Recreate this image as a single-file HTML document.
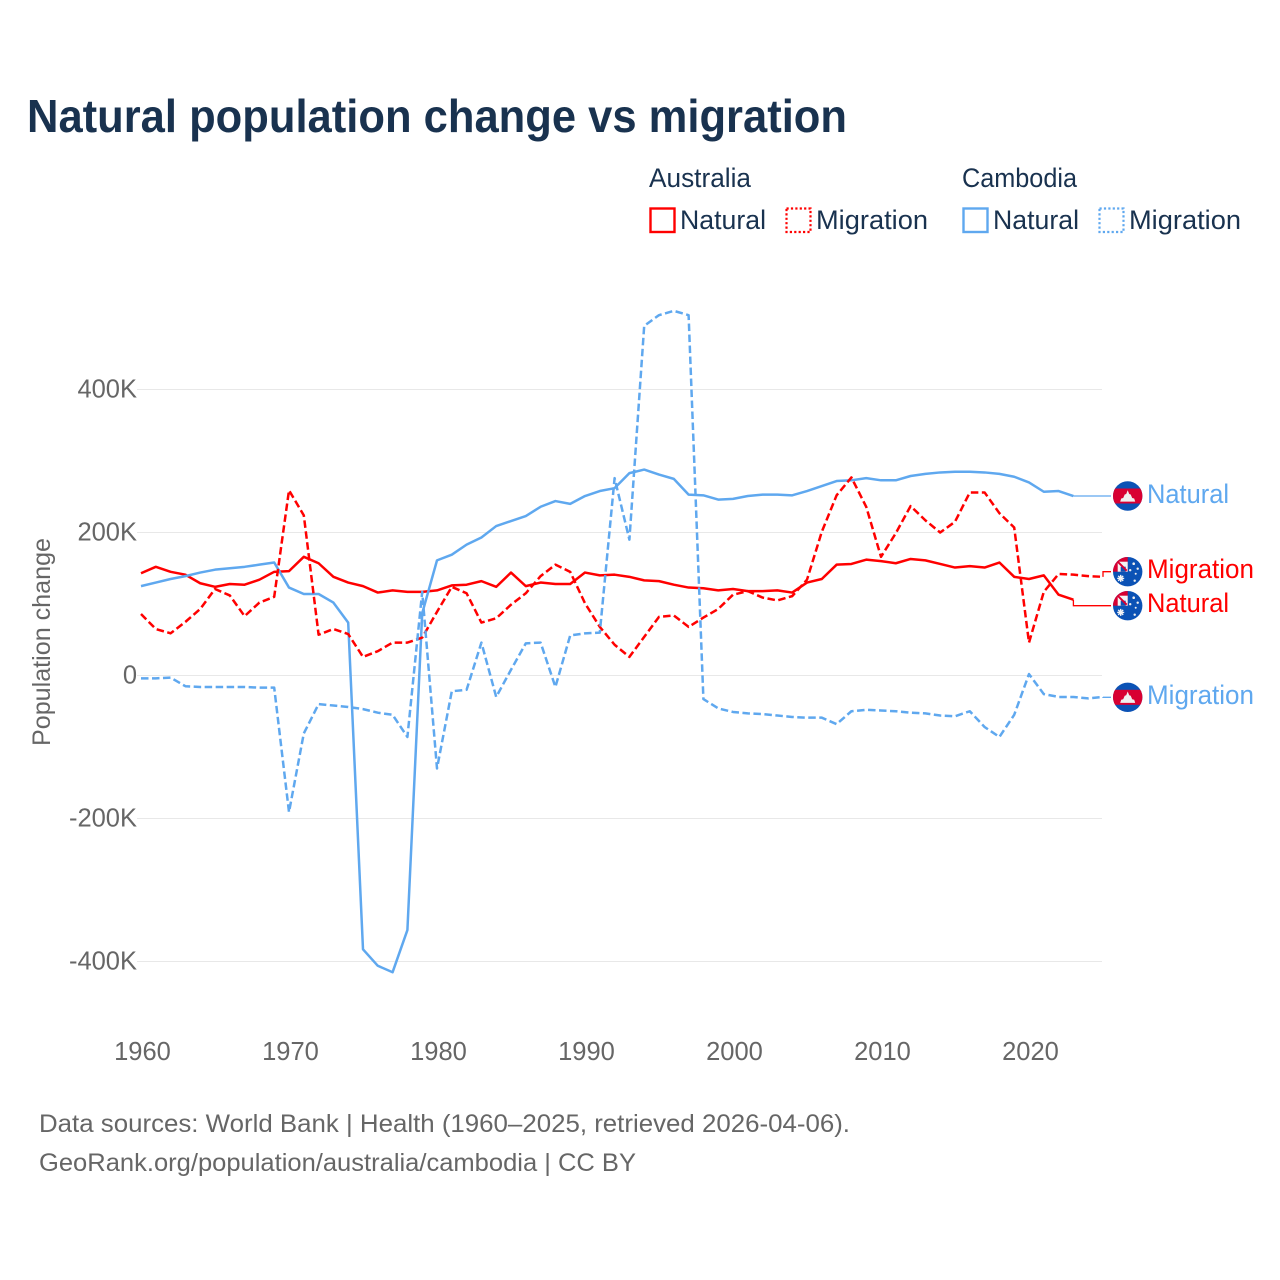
<!DOCTYPE html>
<html lang="en">
<head>
<meta charset="utf-8">
<title>Natural population change vs migration</title>
<style>
html,body{margin:0;padding:0;background:#fff;}
svg{display:block;}
text{font-family:"Liberation Sans",sans-serif;}
</style>
</head>
<body>
<svg id="chart" xmlns="http://www.w3.org/2000/svg" width="1280" height="1280" viewBox="0 0 1280 1280">
  <defs>
    <clipPath id="flag-clip"><circle cx="0" cy="0" r="14.7"/></clipPath>
    <g id="flag-kh">
      <g clip-path="url(#flag-clip)">
        <rect x="-15" y="-15" width="30" height="30" fill="#0b52b5"/>
        <rect x="-15" y="-7.5" width="30" height="15" fill="#d80032"/>
        <path d="M-7.5 5.6 L-6.5 2.5 L-4.5 2 L-3 -1.5 L-1.5 -2 L0 -5.8 L1.5 -2 L3 -1.5 L4.5 2 L6.5 2.5 L7.5 5.6 Z" fill="#f0f0f0"/>
      </g>
    </g>
    <g id="flag-au">
      <g clip-path="url(#flag-clip)">
        <rect x="-15" y="-15" width="30" height="30" fill="#0b52b5"/>
        <rect x="-15" y="-15" width="15" height="15" fill="#d80032"/>
        <rect x="-10" y="-10" width="10" height="10" fill="#f4f4f4"/>
        <rect x="-7" y="-5" width="5" height="5" fill="#0b52b5"/>
        <path d="M-10 -10 L-1 -1" stroke="#d80032" stroke-width="2"/>
        <path d="M-3.5 3.5 L-10.5 3.5 M-7 0 L-7 7 M-9.5 1 L-4.5 6 M-4.5 1 L-9.5 6" transform="translate(0,3.2)" stroke="#f4f4f4" stroke-width="1.4"/>
        <circle cx="2.5" cy="-1.5" r="1.2" fill="#f0f0f0"/>
        <circle cx="6" cy="-8" r="1.3" fill="#f0f0f0"/>
        <circle cx="10" cy="-3" r="1.2" fill="#f0f0f0"/>
        <circle cx="8" cy="2" r="1" fill="#f0f0f0"/>
        <circle cx="7" cy="9" r="1.2" fill="#f0f0f0"/>
      </g>
    </g>
  </defs>

  <text x="27" y="132" font-size="46" font-weight="700" fill="#19324f" textLength="820" lengthAdjust="spacingAndGlyphs">Natural population change vs migration</text>

  <g font-size="27" fill="#19324f">
    <text x="649" y="187" textLength="102" lengthAdjust="spacingAndGlyphs">Australia</text>
    <text x="962" y="187" textLength="115" lengthAdjust="spacingAndGlyphs">Cambodia</text>

    <rect x="650.5" y="208.5" width="24" height="23.5" fill="none" stroke="#ff0000" stroke-width="2.4"/>
    <text x="680" y="229" textLength="86" lengthAdjust="spacingAndGlyphs">Natural</text>
    <rect x="786.5" y="208.5" width="24" height="23.5" fill="none" stroke="#ff0000" stroke-width="2.2" stroke-dasharray="2.2,2.2"/>
    <text x="816" y="229" textLength="112" lengthAdjust="spacingAndGlyphs">Migration</text>

    <rect x="963.5" y="208.5" width="24" height="23.5" fill="none" stroke="#5fa8ef" stroke-width="2.4"/>
    <text x="993" y="229" textLength="86" lengthAdjust="spacingAndGlyphs">Natural</text>
    <rect x="1099.5" y="208.5" width="24" height="23.5" fill="none" stroke="#5fa8ef" stroke-width="2.2" stroke-dasharray="2.2,2.2"/>
    <text x="1129" y="229" textLength="112" lengthAdjust="spacingAndGlyphs">Migration</text>
  </g>

  <text transform="translate(50,642) rotate(-90)" text-anchor="middle" font-size="25" fill="#666666" textLength="208" lengthAdjust="spacingAndGlyphs">Population change</text>

  <g id="grid"></g>
  <g id="y-ticks"></g>
  <g id="x-ticks"></g>
  <g id="series"></g>

  <g font-size="27">
    <use href="#flag-kh" x="1127.7" y="496"/>
    <text x="1147" y="503" fill="#5fa8ef" textLength="82" lengthAdjust="spacingAndGlyphs">Natural</text>
    <use href="#flag-au" x="1127.7" y="571.7"/>
    <text x="1147" y="578" fill="#ff0000" textLength="107" lengthAdjust="spacingAndGlyphs">Migration</text>
    <use href="#flag-au" x="1127.7" y="605.7"/>
    <text x="1147" y="612" fill="#ff0000" textLength="82" lengthAdjust="spacingAndGlyphs">Natural</text>
    <use href="#flag-kh" x="1127.7" y="697.3"/>
    <text x="1147" y="704" fill="#5fa8ef" textLength="107" lengthAdjust="spacingAndGlyphs">Migration</text>
  </g>

  <g font-size="25" fill="#666666">
    <text x="39" y="1132" textLength="811" lengthAdjust="spacingAndGlyphs">Data sources: World Bank | Health (1960–2025, retrieved 2026-04-06).</text>
    <text x="39" y="1171" textLength="597" lengthAdjust="spacingAndGlyphs">GeoRank.org/population/australia/cambodia | CC BY</text>
  </g>
</svg>

<script>
const startYear = 1960;
const xTickYears = [1960, 1970, 1980, 1990, 2000, 2010, 2020];
const yTickValues = [400, 200, 0, -200, -400];
const yTickLabels = ["400K", "200K", "0", "-200K", "-400K"];

// Values in thousands, starting at 1960
const australiaNatural = [143,152,145,141,129,124,128,127,134,145,146,166,157,138,130,125,116,119,117,117,119,126,127,132,124,144,125,130,128,128,144,140,141,138,133,132,127,123,122,119,121,118,118,119,116,130,135,155,156,162,160,157,163,161,156,151,153,151,158,138,135,140,113,106];
const australiaMigration = [86,65,59,75,93,121,112,83,102,110,259,224,57,65,58,26,34,46,46,53,89,124,115,74,80,99,115,139,155,145,101,68,43,26,54,82,84,68,81,93,113,118,109,105,111,134,201,252,277,236,166,199,237,217,200,215,256,256,227,207,46,117,142,141,139,138];
const cambodiaNatural = [125,130,135,139,144,148,150,152,155,158,123,114,114,102,74,-383,-406,-415,-356,87,161,169,183,193,209,216,223,236,244,240,251,258,262,283,288,281,275,253,252,246,247,251,253,253,252,258,265,272,273,276,273,273,279,282,284,285,285,284,282,278,270,257,258,251];
const cambodiaMigration = [-4,-4,-3,-15,-16,-16,-16,-16,-17,-17,-191,-81,-40,-42,-44,-47,-52,-55,-86,117,-130,-22,-20,46,-30,8,45,46,-16,56,59,60,276,190,489,504,510,504,-33,-46,-51,-53,-54,-56,-58,-59,-59,-68,-50,-48,-49,-50,-52,-53,-56,-57,-50,-72,-86,-55,2,-26,-30,-30,-32,-30];

const RED = "#ff0000";
const BLUE = "#5fa8ef";
const NS = "http://www.w3.org/2000/svg";

function xScale(year) { return 141 + (year - 1960) * 14.8; }
function yScale(value) { return 675.5 - value * 0.715; }

function make(tag, attrs, parent) {
  const el = document.createElementNS(NS, tag);
  for (const k in attrs) el.setAttribute(k, attrs[k]);
  parent.appendChild(el);
  return el;
}

const gridGroup = document.getElementById("grid");
const yTickGroup = document.getElementById("y-ticks");
yTickValues.forEach(function (v, i) {
  const line = make("line", { x1: 137, x2: 1102, y1: yScale(v), y2: yScale(v), stroke: "#e8e8e8", "stroke-width": 1 }, gridGroup);
  
  
  const label = make("text", { x: 137, y: yScale(v) + 8, "text-anchor": "end", "font-size": 25.5, fill: "#666666" }, yTickGroup);
  label.textContent = yTickLabels[i];
  
  
});

const xTickGroup = document.getElementById("x-ticks");
xTickYears.forEach(function (yr) {
  const label = make("text", { x: xScale(yr) + 1.5, y: 1060, "text-anchor": "middle", "font-size": 25.5, fill: "#666666" }, xTickGroup);
  label.textContent = String(yr);
  
  
});

function drawSeries(values, color, dashed, name, labelY) {
  const group = document.getElementById("series");
  const d = values.map(function (v, i) {
    return (i ? "L" : "M") + xScale(startYear + i).toFixed(2) + " " + yScale(v).toFixed(2);
  }).join(" ");
  const attrs = { d: d, fill: "none", stroke: color, "stroke-width": 2.5, "stroke-linejoin": "round" };
  if (dashed) attrs["stroke-dasharray"] = "7.5,3.5";
  const path = make("path", attrs, group);
  
  

  const lastX = xScale(startYear + values.length - 1);
  const lastY = yScale(values[values.length - 1]);
  const conn = make("path", {
    d: "M" + lastX.toFixed(2) + " " + lastY.toFixed(2) + " L" + lastX.toFixed(2) + " " + labelY + " L1111 " + labelY,
    fill: "none", stroke: color, "stroke-width": 1.3
  }, group);
  
  
}

drawSeries(australiaNatural, RED, false, "line-australia-natural", 605.7);
drawSeries(cambodiaNatural, BLUE, false, "line-cambodia-natural", 496);
drawSeries(australiaMigration, RED, true, "line-australia-migration", 571.7);
drawSeries(cambodiaMigration, BLUE, true, "line-cambodia-migration", 697.3);
</script>
</body>
</html>
